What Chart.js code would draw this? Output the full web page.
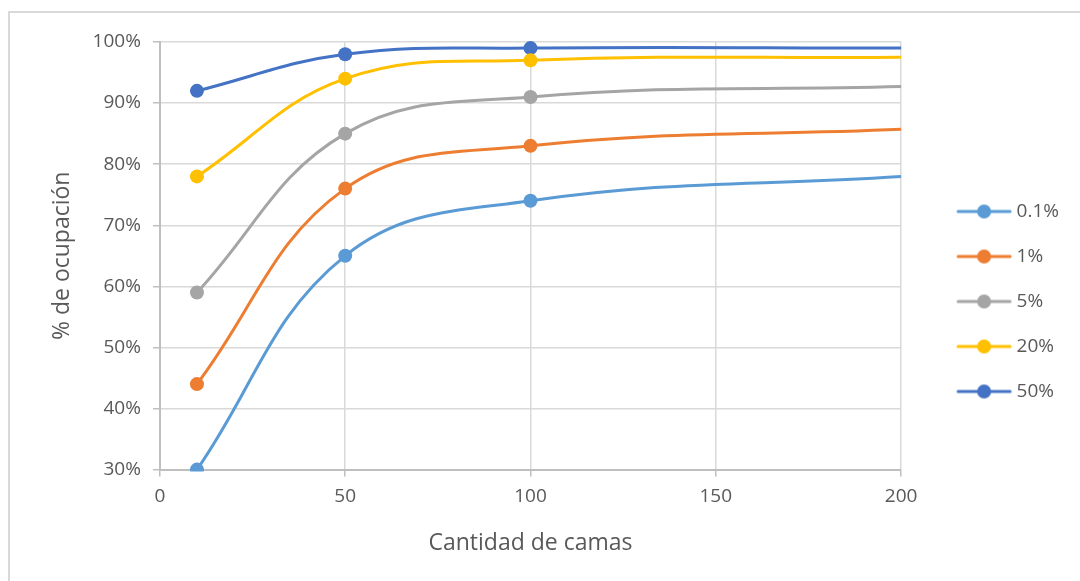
<!DOCTYPE html>
<html>
<head>
<meta charset="utf-8">
<script src="https://cdn.jsdelivr.net/npm/chart.js@4"></script>
<style>
  html, body { margin: 0; padding: 0; background: #fff; }
  #wrap { position: relative; width: 1080px; height: 581px; }
  #frame { position: absolute; left: 8px; top: 11px; width: 1100px; height: 600px;
           border-left: 2px solid #d9d9d9; border-top: 2px solid #d9d9d9; }
  canvas { position: absolute; left: 0; top: 0; }
</style>
</head>
<body>
<div id="wrap">
  <div id="frame"></div>
  <canvas id="chart" width="1080" height="581"></canvas>
</div>
<script>
const camas = [10, 50, 100, 200];
const seriesNames = ['0.1%', '1%', '5%', '20%', '50%'];
const serie01 = [30, 65, 74, 78];
const serie1 = [44, 76, 83, 85.7];
const serie5 = [59, 85, 91, 92.7];
const serie20 = [78, 94, 97, 97.5];
const serie50 = [92, 98, 99, 99];
const colors = ['#5B9BD5', '#ED7D31', '#A5A5A5', '#FFC000', '#4472C4'];
const yTicks = [30, 40, 50, 60, 70, 80, 90, 100];

const allSeries = [serie01, serie1, serie5, serie20, serie50];

// legend marker: short line with a dot, drawn in the right part of a wider image
function legendIcon(color) {
  const c = document.createElement('canvas');
  c.width = 100; c.height = 16;
  const g = c.getContext('2d');
  g.strokeStyle = color;
  g.lineWidth = 3;
  g.lineCap = 'round';
  g.beginPath(); g.moveTo(41, 8); g.lineTo(93, 8); g.stroke();
  g.fillStyle = color;
  g.beginPath(); g.arc(67, 8, 7, 0, Math.PI * 2); g.fill();
  return c;
}
const icons = colors.map(legendIcon);

const textColor = '#595959';
const fontFam = "'Open Sans', 'Noto Sans', sans-serif";

new Chart(document.getElementById('chart').getContext('2d'), {
  type: 'line',
  data: {
    datasets: allSeries.map((vals, i) => ({
      label: seriesNames[i],
      data: camas.map((c, j) => ({ x: c, y: vals[j] })),
      borderColor: colors[i],
      backgroundColor: colors[i],
      borderWidth: 3,
      pointRadius: camas.map(c => c === 200 ? 0 : 7),
      pointHoverRadius: 7,
      pointBorderWidth: 0,
      pointStyle: 'circle',
      tension: 0.4,
      clip: 2
    }))
  },
  options: {
    responsive: false,
    animation: false,
    layout: { padding: { left: 45, top: 42, right: 11, bottom: 20 } },
    plugins: {
      tooltip: { enabled: false },
      legend: {
        position: 'right',
        labels: {
          usePointStyle: true,
          pointStyleWidth: 80,
          padding: 26,
          color: textColor,
          font: { family: fontFam, size: 19 },
          generateLabels(chart) {
            return chart.data.datasets.map((ds, i) => ({
              text: ds.label,
              pointStyle: icons[i],
              fillStyle: ds.borderColor,
              strokeStyle: ds.borderColor,
              lineWidth: 0,
              fontColor: textColor,
              datasetIndex: i
            }));
          }
        }
      }
    },
    scales: {
      x: {
        type: 'linear',
        min: 0,
        max: 200,
        ticks: { stepSize: 50, color: textColor, font: { family: fontFam, size: 19 }, padding: 9 },
        grid: { color: '#d9d9d9', lineWidth: 1.5, tickLength: 7, tickColor: '#bfbfbf' },
        border: { color: '#bfbfbf', width: 2 },
        title: { display: true, text: 'Cantidad de camas', color: textColor,
                 font: { family: fontFam, size: 23 }, padding: { top: 12 } }
      },
      y: {
        min: 30,
        max: 100,
        afterBuildTicks(axis) { axis.ticks = yTicks.map(v => ({ value: v })); },
        ticks: { color: textColor, font: { family: fontFam, size: 19 }, padding: 12,
                 callback: v => v + '%' },
        grid: { color: '#d9d9d9', lineWidth: 1.5, tickLength: 7, tickColor: '#bfbfbf' },
        border: { color: '#bfbfbf', width: 2 },
        title: { display: true, text: '% de ocupación', color: textColor,
                 font: { family: fontFam, size: 23 }, padding: { bottom: 4 } }
      }
    }
  }
});
</script>
</body>
</html>
